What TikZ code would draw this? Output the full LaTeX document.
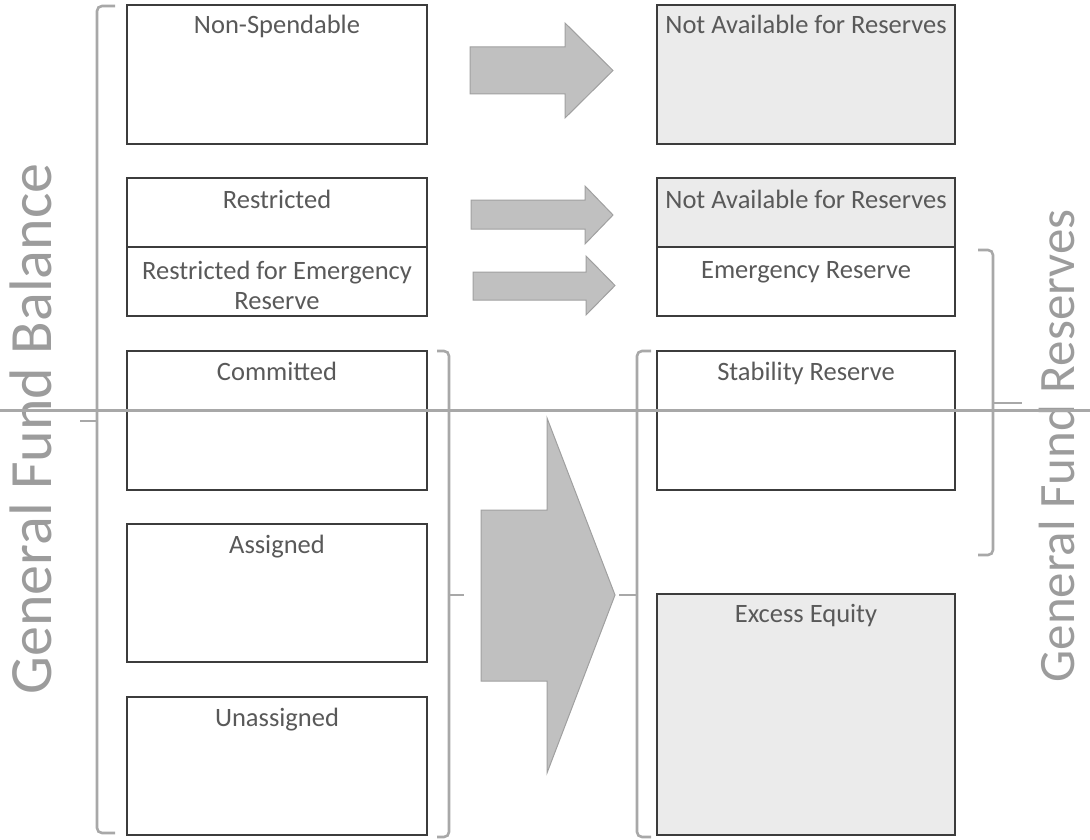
\documentclass[tikz,border=0pt]{standalone}
\usepackage{fontspec}
\setmainfont{Carlito}
\definecolor{boxc}{HTML}{3C3C3C}
\definecolor{txtc}{HTML}{595959}
\definecolor{nafill}{HTML}{EBEBEB}
\definecolor{arrfill}{HTML}{C0C0C0}
\definecolor{arrdraw}{HTML}{A0A0A0}
\definecolor{brc}{HTML}{A8A8A8}
\definecolor{bigc}{HTML}{9C9C9C}
\begin{document}
\begin{tikzpicture}[x=1pt,y=-1pt,
  box/.style={draw=boxc, line width=1.4pt, inner sep=0pt, minimum width=300pt},
  rbox/.style={box, minimum width=298pt},
  na/.style={fill=nafill},
  lab/.style={text=txtc, anchor=base, inner sep=0pt, font=\fontsize{26.5}{30}\selectfont},
  blockarrow/.style={fill=arrfill, draw=arrdraw, line width=1pt, line join=miter},
  bracket/.style={draw=brc, line width=2.6pt, rounded corners=5pt},
  biglab/.style={text=bigc, rotate=90, inner sep=0pt},
  divline/.style={draw=brc, line width=3pt}]
\useasboundingbox (0,0) rectangle (1090,840);

% left column
\node[box, minimum height=139pt] (nsp) at (277,74.5) {};
\node[box, minimum height=69pt] (restr) at (277,212.5) {};
\node[box, minimum height=69pt] (rese) at (277,281.5) {};
\node[box, minimum height=139pt] (com) at (277,420.5) {};
\node[box, minimum height=138pt] (asg) at (277,593) {};
\node[box, minimum height=138pt] (una) at (277,766) {};

% right column
\node[rbox, na, minimum height=139pt] (na1) at (806,74.5) {};
\node[rbox, na, minimum height=69pt] (na2) at (806,212.5) {};
\node[rbox, minimum height=69pt] (emr) at (806,281.5) {};
\node[rbox, minimum height=139pt] (stab) at (806,420.5) {};
\node[rbox, na, minimum height=241pt] (exc) at (806,714.5) {};

% labels
\node[lab] (lnsp) at (277,34) {Non-Spendable};
\node[lab] (lrestr) at (277,208) {Restricted};
\node[lab] (lrese) at (277,279) {\begin{tabular}[t]{@{}c@{}}Restricted for Emergency\\Reserve\end{tabular}};
\node[lab] (lcom) at (277,380) {Committed};
\node[lab] (lasg) at (277,553) {Assigned};
\node[lab] (luna) at (277,726) {Unassigned};
\node[lab] (lna1) at (806,34) {Not Available for Reserves};
\node[lab] (lna2) at (806,208) {Not Available for Reserves};
\node[lab] (lemr) at (806,278) {Emergency Reserve};
\node[lab] (lstab) at (806,380) {Stability Reserve};
\node[lab] (lexc) at (806,622) {Excess Equity};

% block arrows
\path[blockarrow] (470,47) -- (565,47) -- (565,23) -- (613,70.5) -- (565,118) -- (565,94) -- (470,94) -- cycle;
\path[blockarrow] (471,200) -- (585,200) -- (585,186) -- (613,215) -- (585,244) -- (585,229) -- (471,229) -- cycle;
\path[blockarrow] (473,272) -- (586,272) -- (586,256) -- (615,285.5) -- (586,315) -- (586,300) -- (473,300) -- cycle;
\path[blockarrow] (481,510) -- (547,510) -- (547,418) -- (615,595) -- (547,773) -- (547,681) -- (481,681) -- cycle;

% brackets
\draw[bracket] (115,6) -- (97,6) -- (97,833) -- (115,833);
\draw[draw=brc, line width=2.6pt] (97,421) -- (80,421);
\draw[bracket] (437,351) -- (449,351) -- (449,837) -- (437,837);
\draw[draw=brc, line width=2.6pt] (449,595) -- (464,595);
\draw[bracket] (651,351) -- (637,351) -- (637,837) -- (651,837);
\draw[draw=brc, line width=2.6pt] (637,595) -- (619,595);
\draw[bracket] (978,250) -- (993,250) -- (993,555) -- (978,555);
\draw[draw=brc, line width=2.6pt] (993,403) -- (1022,403);

% big side labels
\node[biglab, font=\fontsize{60}{60}\selectfont] (gfb) at (31,429) {General Fund Balance};
\node[biglab, font=\fontsize{51}{51}\selectfont] (gfr) at (1057,446) {General Fund Reserves};

% horizontal divider
\coordinate (hl) at (0,410);
\coordinate (hr) at (1090,410);
\draw[divline] (hl) -- (hr);
\end{tikzpicture}
\end{document}
